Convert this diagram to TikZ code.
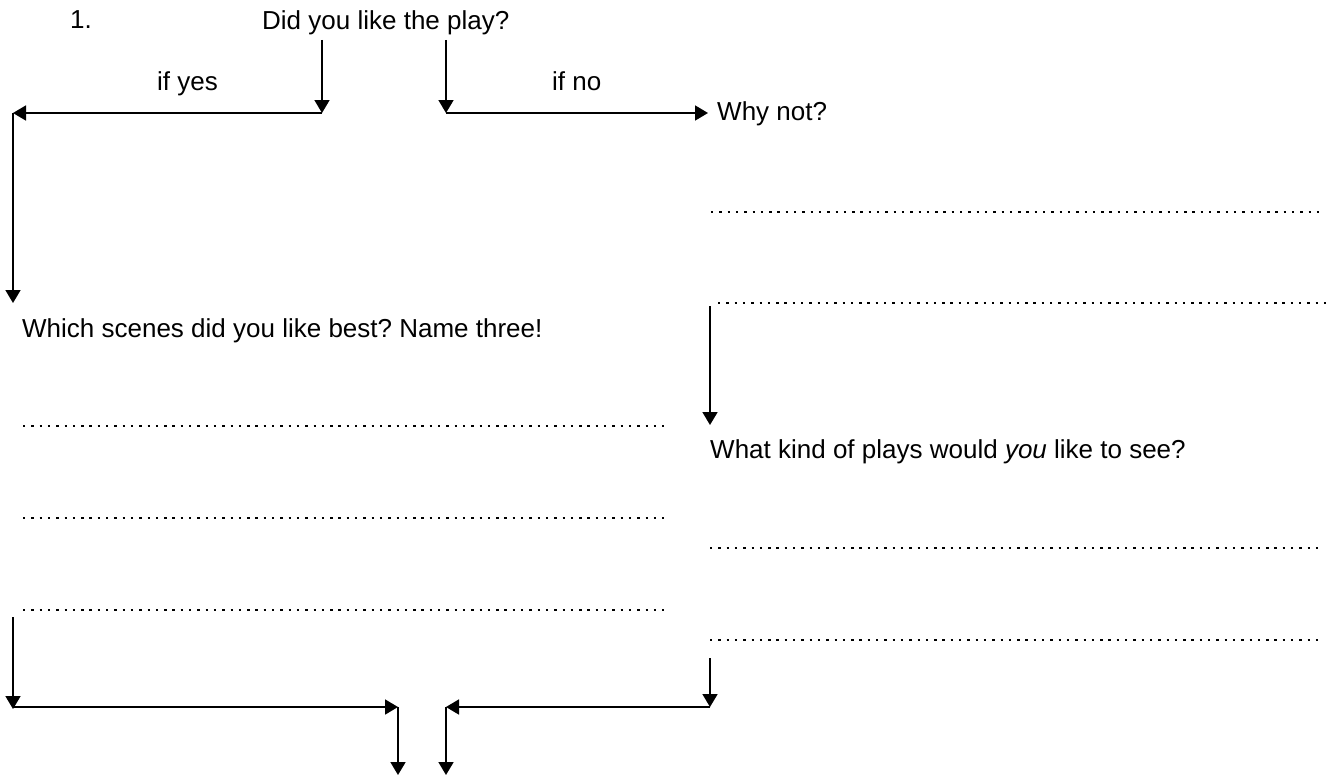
\documentclass[tikz,border=0pt]{standalone}
\usepackage{fontspec}
\setmainfont{Liberation Sans}
\frenchspacing
\usetikzlibrary{arrows.meta}

\tikzset{
  arr/.style={line width=1.8pt,-{Triangle[length=13pt,width=15pt]}},
  blank/.style={line width=2.4pt,dash pattern=on 2.4pt off 5.9pt},
}

\begin{document}
\begin{tikzpicture}[x=1pt,y=-1pt]
        \useasboundingbox (0,0) rectangle (1336,776);

        \begin{scope}[every node/.style={anchor=base west,inner sep=0pt,font=\fontsize{26}{31}\selectfont}]
          \node (num)  at (70,29)  {1.};
          \node (play)  at (262,30)  {Did you like the play?};
          \node (yes)  at (157,90)  {if yes};
          \node (no)  at (552,90)  {if no};
          \node (why)  at (717,120)  {Why not?};
          \node (best)  at (22,337)  {Which scenes did you like best? Name three!};
          \node (kind)  at (710,458)  {What kind of plays would \textit{you} like to see?};
        \end{scope}

        \coordinate (y1) at (322,40);
        \coordinate (y2) at (322,113);
        \coordinate (y3) at (13,113);
        \coordinate (y4) at (13,303);
        \coordinate (n1) at (446,40);
        \coordinate (n2) at (446,113);
        \coordinate (n3) at (708,113);
        \coordinate (k1) at (710,306);
        \coordinate (k2) at (710,425);
        \coordinate (l1) at (13,617);
        \coordinate (l2) at (13,709);
        \coordinate (l3) at (13,707);
        \coordinate (l4) at (398,707);
        \coordinate (l5) at (398,775);
        \coordinate (r1) at (710,658);
        \coordinate (r2) at (710,707);
        \coordinate (r3) at (446,707);
        \coordinate (r4) at (446,775);

        \draw[arr] (y1) -- (y2);
        \draw[arr] (y2) -- (y3);
        \draw[arr] (y3) -- (y4);
        \draw[arr] (n1) -- (n2);
        \draw[arr] (n2) -- (n3);
        \draw[arr] (k1) -- (k2);
        \draw[arr] (l1) -- (l2);
        \draw[arr] (l3) -- (l4);
        \draw[arr] (l4) -- (l5);
        \draw[arr] (r1) -- (r2);
        \draw[arr] (r2) -- (r3);
        \draw[arr] (r3) -- (r4);

        \foreach \y in {426,518,610}
          \draw[blank] (23,\y) -- (664,\y);
        \foreach \y/\a/\b in {212/711/1321,303/718/1326,548/710/1319,640/710/1319}
          \draw[blank] (\a,\y) -- (\b,\y);

      \end{tikzpicture}
\end{document}
